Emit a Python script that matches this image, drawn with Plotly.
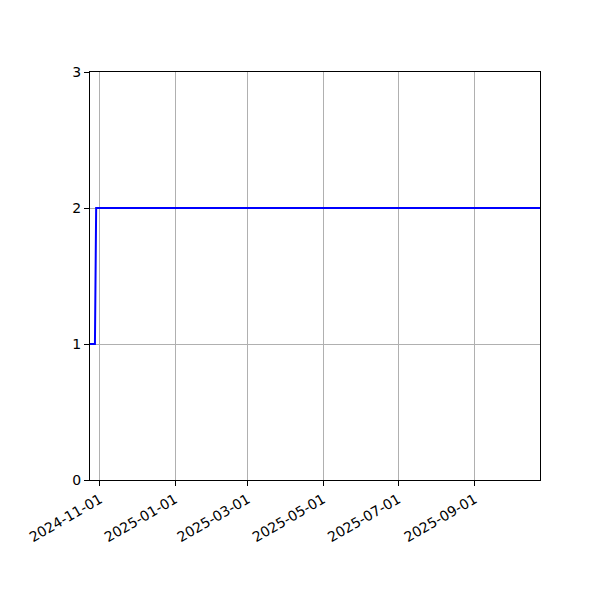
import plotly.graph_objects as go

# step series
dates = ["2024-10-24", "2024-10-28", "2024-10-29", "2025-10-24"]
values = [1, 1, 2, 2]

x_range = ["2024-10-24", "2025-10-24"]
y_ticks = [0, 1, 2, 3]
x_ticks = ["2024-11-01", "2025-01-01", "2025-03-01", "2025-05-01", "2025-07-01", "2025-09-01"]

fig = go.Figure()
fig.add_trace(go.Scatter(x=dates, y=values, mode="lines",
                         line=dict(color="#0000ff", width=2), showlegend=False))

axis_style = dict(showline=True, linecolor="black", linewidth=1, mirror=True,
                  ticks="outside", ticklen=5, tickcolor="black", tickwidth=1,
                  showgrid=True, gridcolor="#b0b0b0", gridwidth=1, zeroline=False,
                  automargin=False,
                  tickfont=dict(family="DejaVu Sans", size=14, color="black"))

fig.update_xaxes(range=x_range, tickvals=x_ticks, ticktext=x_ticks, tickangle=-30, **axis_style)
fig.update_yaxes(range=[0, 3], tickvals=y_ticks, **axis_style)

# the page body adds ~8px offset, so margins are trimmed to land the axes box where it was
fig.update_layout(width=600, height=600, plot_bgcolor="white", paper_bgcolor="white",
                  margin=dict(l=82, r=68, t=64, b=128))

fig.write_html("out.html")
